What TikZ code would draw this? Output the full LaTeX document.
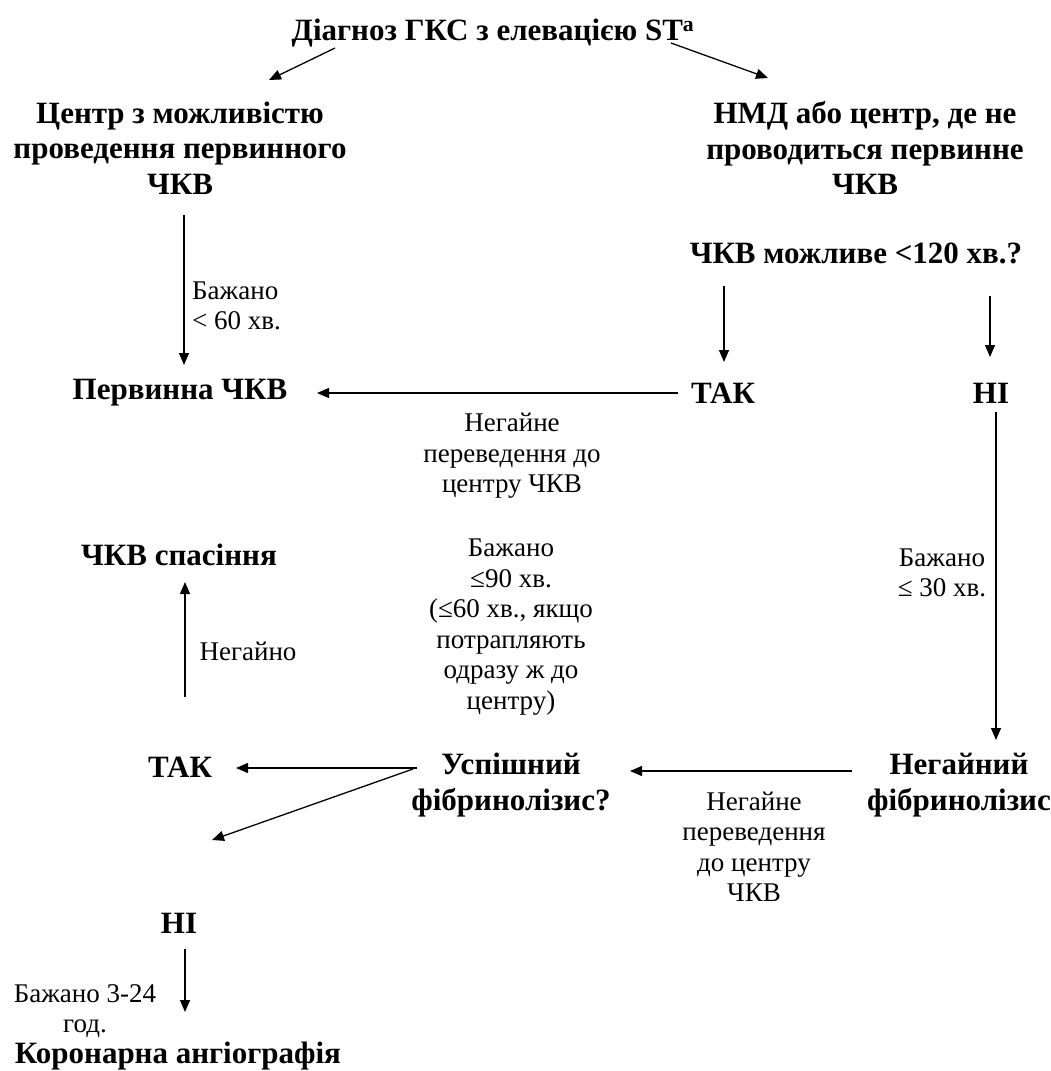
\documentclass[tikz,border=0pt]{standalone}
\usepackage{fontspec}
\setmainfont{Liberation Serif}
\usetikzlibrary{arrows.meta,calc}
\begin{document}
\begin{tikzpicture}[x=1pt,y=-1pt,
  bt/.style={inner sep=0pt,align=center,font=\bfseries\fontsize{31}{35.5}\selectfont},
  rt/.style={inner sep=0pt,align=center,font=\fontsize{27}{30.5}\selectfont},
  arr/.style={line width=1.3pt,-{Triangle[length=12pt,width=10pt]}}]
\fill[white] (0,0) rectangle (1050,1071);
\useasboundingbox (0,0) rectangle (1050,1071);
% nodes
\node[bt] (title) at (493,33) {Діагноз ГКС з елевацією ST\textsuperscript{a}};
\node[bt] (c1) at (180,148) {Центр з можливістю\\проведення первинного\\ЧКВ};
\node[bt] (c2) at (865,148) {НМД або центр, де не\\проводиться первинне\\ЧКВ};
\node[bt] (q) at (856,253) {ЧКВ можливе <120 хв.?};
\node[bt] (p) at (180,393) {Первинна ЧКВ};
\node[bt] (yes1) at (723,393) {ТАК};
\node[bt] (no1) at (991,393) {НІ};
\node[bt] (rescue) at (179,555) {ЧКВ спасіння};
\node[bt] (yes2) at (180,767) {ТАК};
\node[bt] (succ) at (511,785) {Успішний\\фібринолізис?};
\node[bt] (fib) at (959,785) {Негайний\\фібринолізис};
\node[bt] (no2) at (179,923) {НІ};
\node[bt] (cor) at (178,1056) {Коронарна ангіографія};
% labels
\node[rt,anchor=west,align=left] (l60) at (192,306) {Бажано\\< 60 хв.};
\node[rt] (ltr1) at (512,456) {Негайне\\переведення до\\центру ЧКВ};
\node[rt] (limm) at (248,651) {Негайно};
\node[rt] (l90) at (511,627) {Бажано\\≤90 хв.\\(≤60 хв., якщо\\потрапляють\\одразу ж до\\центру)};
\node[rt] (l30) at (942,573) {Бажано\\≤ 30 хв.};
\node[rt] (ltr2) at (754,847) {Негайне\\переведення\\до центру\\ЧКВ};
\node[rt] (l324) at (85,1011) {Бажано 3-24\\год.};
% connectors
\draw[arr] ($(title)+(-158,15)$) -- ($(c1)+(89,-68)$);
\draw[arr] ($(title)+(178,10)$) -- ($(c2)+(-97,-70)$);
\draw[arr] ($(c1)+(4,67)$) -- ($(p)+(4,-28)$);
\draw[arr] ($(q)+(-132,33)$) -- ($(yes1)+(1,-31)$);
\draw[arr] ($(q)+(134,43)$) -- ($(no1)+(-1,-36)$);
\draw[arr] ($(yes1)+(-45,0)$) -- ($(p)+(137,0)$);
\draw[arr] ($(no1)+(5,19)$) -- ($(fib)+(37,-45)$);
\draw[arr] ($(yes2)+(5,-70)$) -- ($(rescue)+(6,27)$);
\draw[arr] ($(succ)+(-94,-17)$) -- ($(yes2)+(56,1)$);
\draw[arr] ($(succ)+(-98,-16)$) -- ($(no2)+(33,-83)$);
\draw[arr] ($(fib)+(-107,-14)$) -- ($(succ)+(119,-14)$);
\draw[arr] ($(no2)+(6,26)$) -- ($(cor)+(7,-44)$);
\end{tikzpicture}
\end{document}
